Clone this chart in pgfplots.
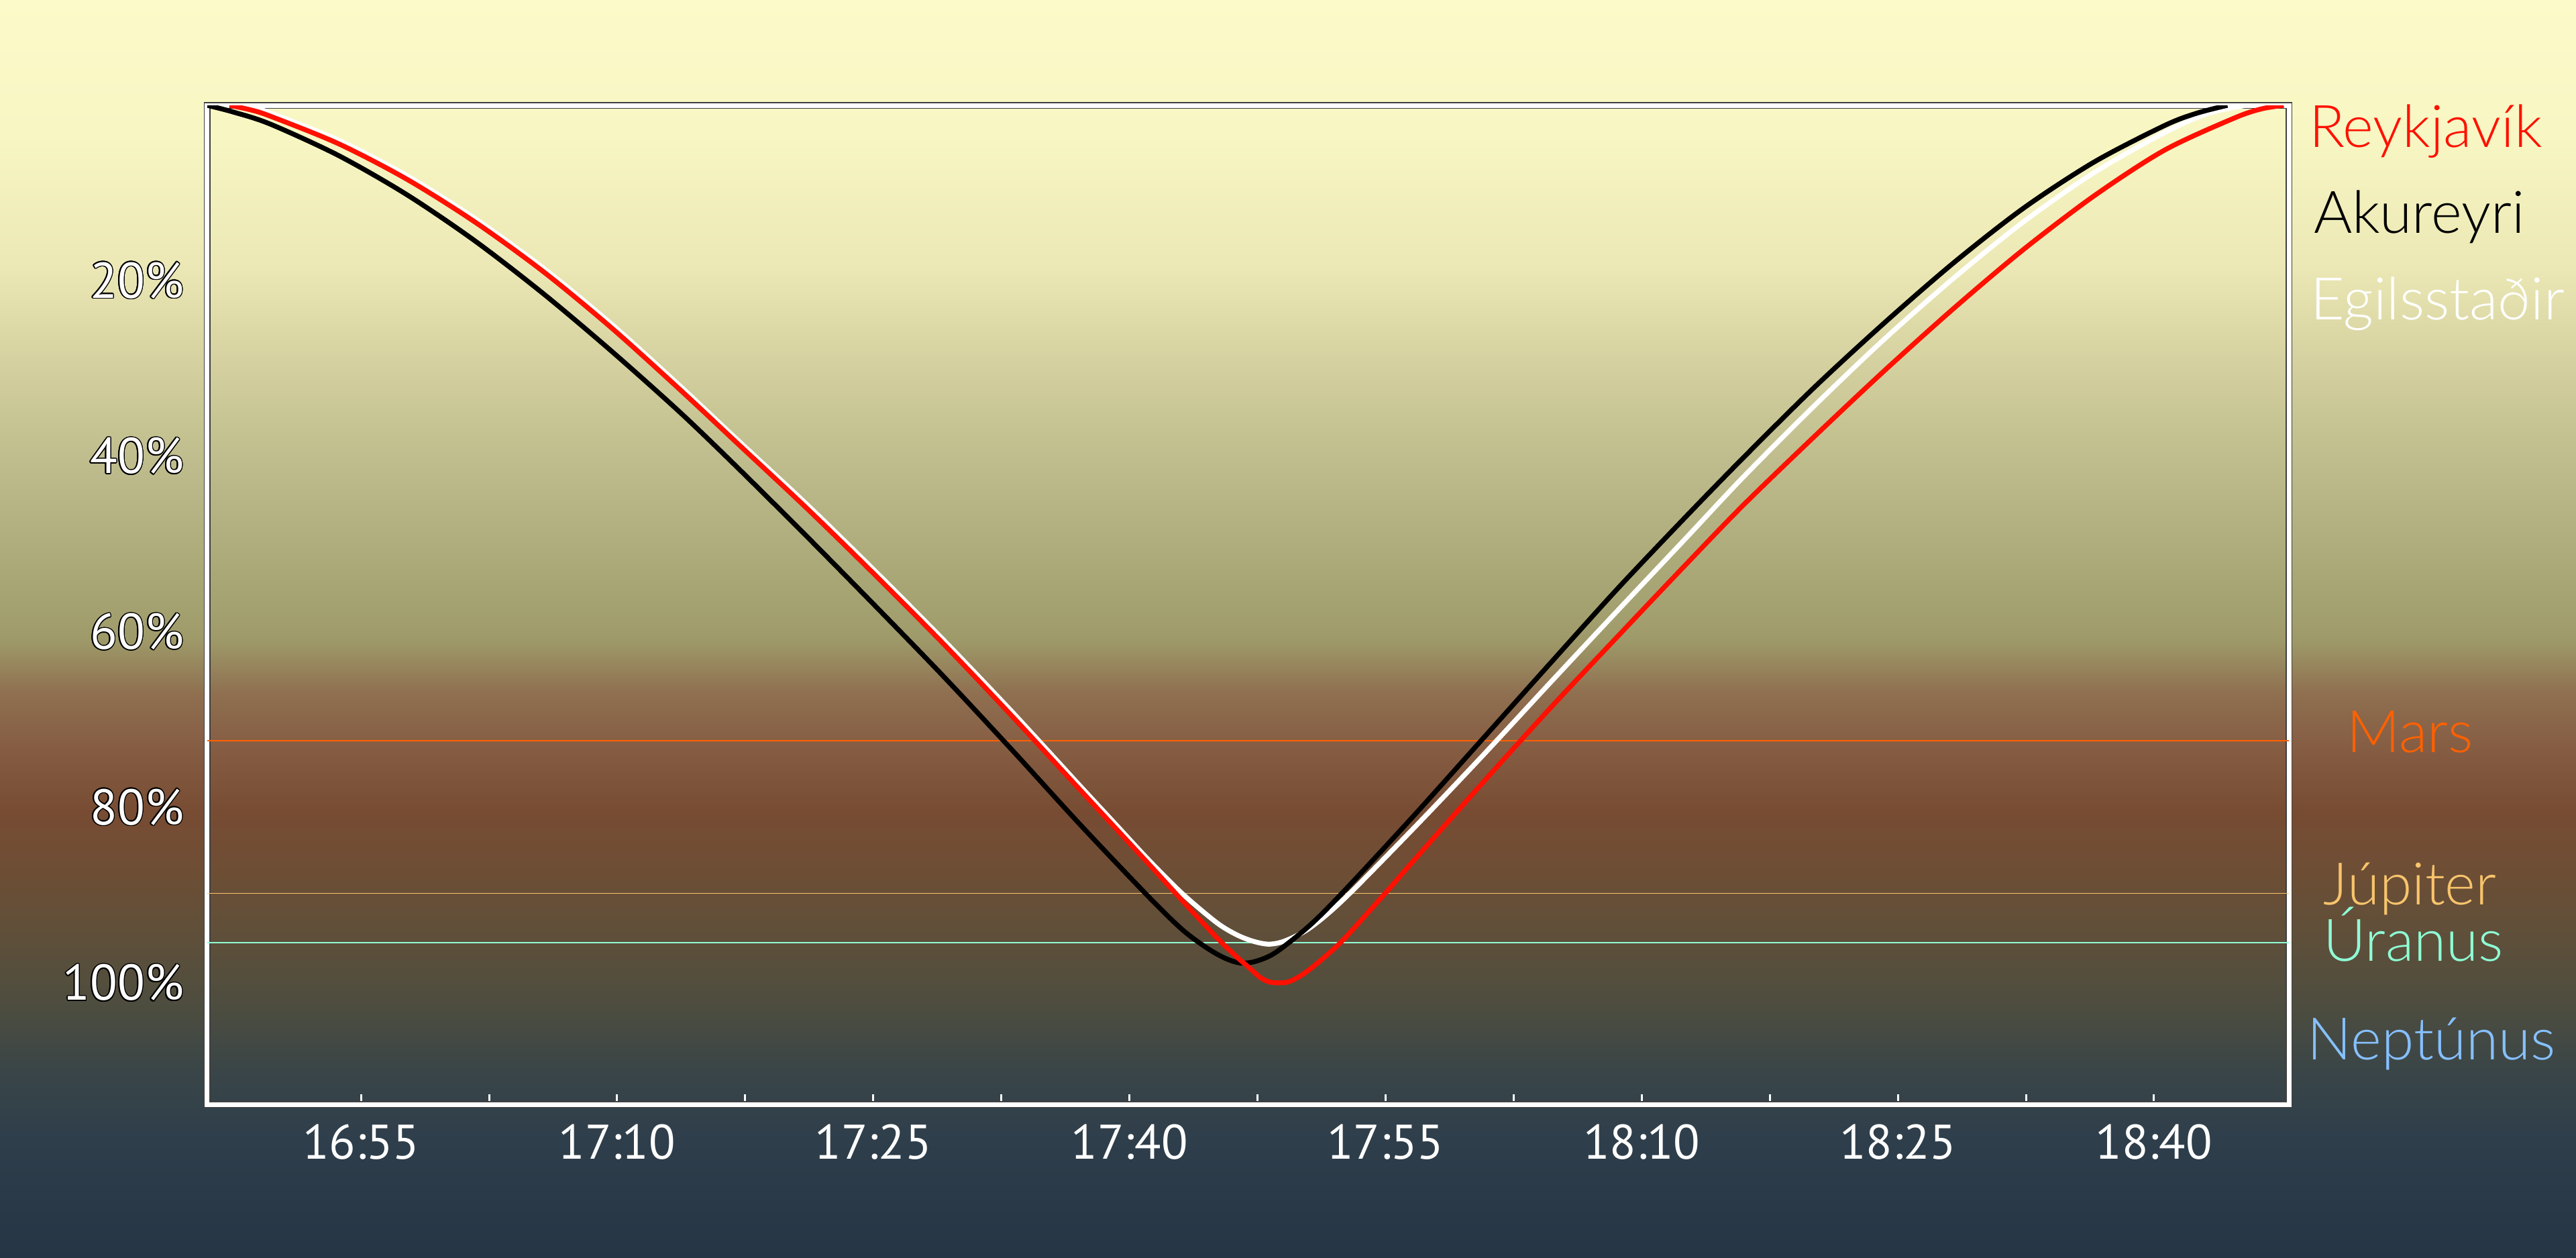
\documentclass[border=0pt]{standalone}
\usepackage{pgfplots}
\pgfplotsset{compat=1.18}
\usepackage{fontspec}
\setmainfont{PT Sans}
\newfontfamily\lightfont{Lato Light}
\usepackage{contour}
\contourlength{0.3pt}
\definecolor{g0}{HTML}{263545}
\definecolor{g1}{HTML}{2E3E4B}
\definecolor{g2}{HTML}{394548}
\definecolor{g3}{HTML}{4D4D3F}
\definecolor{g4}{HTML}{5E4F3A}
\definecolor{g5}{HTML}{6D4E35}
\definecolor{g6}{HTML}{774C33}
\definecolor{g7}{HTML}{875F45}
\definecolor{g8}{HTML}{8F7050}
\definecolor{g9}{HTML}{9E9969}
\definecolor{g10}{HTML}{A5A272}
\definecolor{g11}{HTML}{BDBB8B}
\definecolor{g12}{HTML}{D3CF9E}
\definecolor{g13}{HTML}{EBE8B5}
\definecolor{g14}{HTML}{F8F6C3}
\definecolor{g15}{HTML}{FCFAC8}
\definecolor{marsc}{HTML}{FF6000}
\definecolor{jupc}{HTML}{F8C46C}
\definecolor{uranc}{HTML}{8FFFD6}
\definecolor{neptc}{HTML}{86C0FF}
\definecolor{reyk}{HTML}{FF1000}
\pgfdeclareverticalshading{bgshade}{100bp}{color(0bp)=(g0); color(25bp)=(g0); color(29.64bp)=(g1); color(32.31bp)=(g2); color(34.98bp)=(g3); color(37.65bp)=(g4); color(40.31bp)=(g5); color(42.72bp)=(g6); color(45.54bp)=(g7); color(47.46bp)=(g8); color(49.52bp)=(g9); color(50.99bp)=(g10); color(56.33bp)=(g11); color(60.33bp)=(g12); color(64.33bp)=(g13); color(69.66bp)=(g14); color(75bp)=(g15); color(100bp)=(g15)}
\newcommand{\yl}[1]{\contour{black}{#1}}
\begin{document}
\begin{tikzpicture}
\path[use as bounding box] (0,0) rectangle (768pt,374.8pt);
\shade[shading=bgshade] (0,0) rectangle (768pt,374.8pt);
\begin{axis}[
  at={(61.8pt,45.6pt)}, anchor=south west,
  width=620.6pt, height=297.8pt, scale only axis,
  xmin=1006, xmax=1127.9, ymin=0, ymax=113.8, y dir=reverse,
  axis line style={draw=black!75, double=white, double distance=1.4pt, line width=0.25pt},
  xtick={1015,1030,1045,1060,1075,1090,1105,1120},
  xticklabels={16:55,17:10,17:25,17:40,17:55,18:10,18:25,18:40},
  minor xtick={1022.5,1037.5,1052.5,1067.5,1082.5,1097.5,1112.5},
  xtick pos=bottom, ytick pos=left, tick align=inside,
  major tick length=3pt, minor tick length=3pt,
  xtick style={white, line width=0.6pt},
  ytick style={draw=none},
  ytick={20,40,60,80,100},
  yticklabels={\yl{20\%},\yl{40\%},\yl{60\%},\yl{80\%},\yl{100\%}},
  /pgf/number format/assume math mode=true,
  xticklabel style={text=white, font=\fontsize{14.5}{16}\selectfont, anchor=base, yshift=-16.2pt},
  yticklabel style={text=white, font=\fontsize{15}{17}\selectfont, anchor=east, inner sep=0pt, xshift=-6.8pt},
]
% planet lines
\addplot[marsc, line width=0.35pt] coordinates {(1006,72.4) (1127.9,72.4)};
\addplot[jupc, line width=0.35pt] coordinates {(1006,89.76) (1127.9,89.76)};
\addplot[uranc, line width=0.35pt] coordinates {(1006,95.38) (1127.9,95.38)};
% Egilsstadir
\addplot[white, line width=1.45pt, smooth, tension=0.5] coordinates {
(1008.4,0) (1009.67,0.85) (1013.67,3.95) (1017.68,8.0) (1021.68,12.9) (1025.69,18.55)
(1029.69,24.95) (1033.70,32.0) (1037.07,38.15) (1041.08,45.4) (1045.08,53.0) (1049.09,60.85)
(1053.09,69.0) (1057.10,77.5) (1059.10,81.7) (1061.10,85.9) (1063.10,89.8) (1065.11,93.1)
(1066.3,94.5) (1067.3,95.25) (1068.2,95.55) (1069.15,95.15) (1070.57,93.7) (1072.57,90.4) (1076.57,82.5)
(1080.58,74.3) (1084.58,65.9) (1088.59,57.55) (1092.59,49.3) (1095.97,42.3) (1100.07,34.3)
(1104.17,26.7) (1108.29,19.65) (1112.37,13.25) (1116.50,7.65) (1120.62,3.1) (1123.2,0.9) (1125.4,0)};
% Akureyri
\addplot[black, line width=1.45pt, smooth, tension=0.5] coordinates {
(1006.0,0) (1007.5,0.75) (1009.67,2.12) (1013.67,5.70) (1017.68,10.17) (1021.68,15.45)
(1025.69,21.47) (1029.69,28.03) (1033.70,35.0) (1037.07,41.3) (1041.08,49.05) (1045.08,56.95)
(1049.09,65.0) (1053.09,73.35) (1057.10,81.9) (1061.10,90.1) (1063.10,93.9) (1064.55,96.0) (1065.6,97.15)
(1066.5,97.7) (1067.4,97.5) (1068.56,96.5) (1070.57,93.4) (1072.57,89.5) (1076.57,81.1)
(1080.58,72.4) (1084.58,63.7) (1088.59,55.05) (1092.59,46.85) (1095.97,40.1) (1100.07,32.2)
(1104.17,24.85) (1108.29,17.9) (1112.37,11.7) (1116.50,6.45) (1120.62,2.3) (1122.5,0.9) (1124.3,0)};
% Reykjavik
\addplot[reyk, line width=1.45pt, smooth, tension=0.5] coordinates {
(1007.3,0) (1008.5,0.5) (1009.67,1.22) (1013.67,4.36) (1017.68,8.41) (1021.68,13.30)
(1025.69,18.96) (1029.69,25.38) (1033.70,32.42) (1037.07,38.55) (1041.08,45.85) (1045.08,53.45)
(1049.09,61.3) (1053.09,69.5) (1057.10,77.95) (1061.10,86.35) (1063.1,90.6) (1065.11,94.8)
(1066.2,96.85) (1067.11,98.4) (1067.7,99.4) (1068.3,99.9) (1069.2,99.9) (1069.9,99.3)
(1070.57,98.4) (1071.5,96.9) (1072.57,94.95) (1074.96,89.8) (1076.57,86.2) (1080.58,77.4)
(1084.58,68.8) (1088.59,60.5) (1092.59,52.3) (1095.97,45.5) (1100.07,37.8) (1104.17,30.3)
(1108.29,23.1) (1112.37,16.4) (1116.50,10.3) (1120.62,5.1) (1124.70,1.45) (1126.3,0.4) (1127.6,0)};
\end{axis}
\begin{scope}[every node/.style={font=\lightfont\fontsize{17.5}{20}\selectfont, inner sep=0pt}]
\node[anchor=base west, text=reyk] at (688.3pt,330.8pt) {Reykjavík};
\node[anchor=base west, text=black] at (689.6pt,305.2pt) {Akureyri};
\node[anchor=base west, text=white] at (688.6pt,279.4pt) {Egilsstaðir};
\node[anchor=base, text=marsc] at (718.5pt,150.4pt) {Mars};
\node[anchor=base, text=jupc] at (718.5pt,105pt) {Júpiter};
\node[anchor=base, text=uranc] at (719.5pt,88.2pt) {Úranus};
\node[anchor=base, text=neptc] at (724.9pt,58.8pt) {Neptúnus};
\end{scope}
\end{tikzpicture}
\end{document}
